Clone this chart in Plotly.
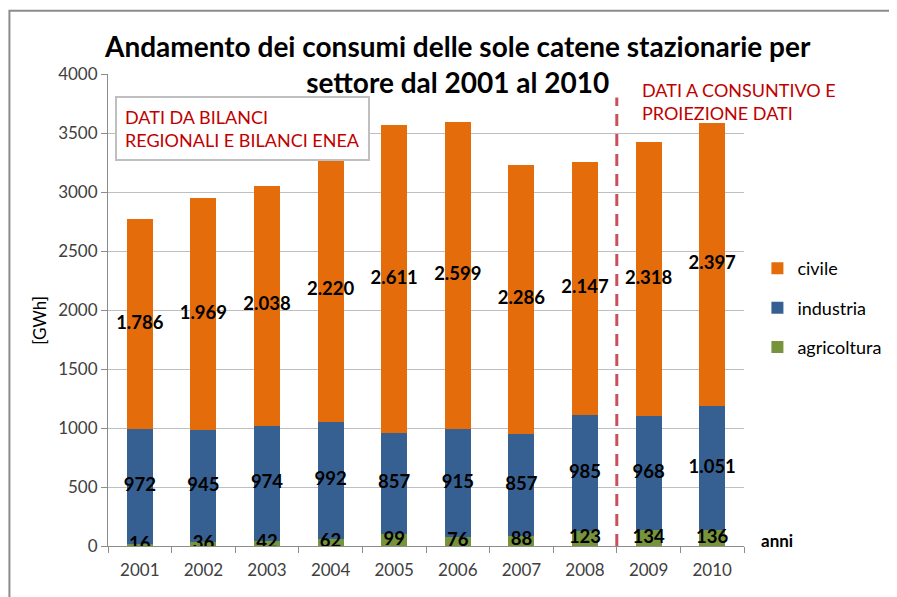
import plotly.graph_objects as go

anni = ["2001", "2002", "2003", "2004", "2005", "2006", "2007", "2008", "2009", "2010"]
agricoltura = [16, 36, 42, 62, 99, 76, 88, 123, 134, 136]
industria = [972, 945, 974, 992, 857, 915, 857, 985, 968, 1051]
civile = [1786, 1969, 2038, 2220, 2611, 2599, 2286, 2147, 2318, 2397]

FONT = "Lato"
settori = [("agricoltura", agricoltura, "#77933C", 3),
           ("industria", industria, "#376092", 2),
           ("civile", civile, "#E46C0A", 1)]

fig = go.Figure()
base = [0] * len(anni)
for nome, valori, colore, rank in settori:
    fig.add_trace(go.Bar(x=anni, y=valori, name=nome, legendrank=rank, legendgroup=nome,
                         marker=dict(color=colore, line=dict(width=0))))
    # etichette al centro di ogni segmento
    centri = [b + v / 2 for b, v in zip(base, valori)]
    fig.add_trace(go.Scatter(x=anni, y=centri, mode="text", customdata=valori,
                             texttemplate="%{customdata:,}", textposition="middle center",
                             textfont=dict(family=FONT, size=18.5, color="black", weight="bold"),
                             showlegend=False, hoverinfo="skip"))
    base = [b + v for b, v in zip(base, valori)]

# separazione dati a consuntivo / proiezione
fig.add_shape(type="line", xref="x", yref="y", x0=7.5, x1=7.5, y0=0, y1=3800,
              line=dict(color="#C8505A", width=3, dash="12px,8px"))
# bordo del grafico
fig.add_shape(type="rect", xref="paper", yref="paper", x0=-0.155, x1=1.4, y0=-0.3, y1=1.134,
              line=dict(color="#8C8C8C", width=2), layer="below")

fig.add_annotation(xref="paper", yref="paper", x=0.549, y=1.1, xanchor="center", yanchor="top",
                   text="<b>Andamento dei consumi delle sole catene stazionarie per<br>settore dal 2001 al 2010</b>",
                   showarrow=False, font=dict(family=FONT, size=28, color="black"))
fig.add_annotation(xref="paper", yref="paper", x=0.011, y=0.953, xanchor="left", yanchor="top",
                   text="DATI DA BILANCI<br>REGIONALI E BILANCI ENEA", showarrow=False, align="left",
                   font=dict(family=FONT, size=18, color="#C00000"), bgcolor="white",
                   bordercolor="#BFBFBF", borderwidth=2, borderpad=8)
fig.add_annotation(xref="paper", yref="paper", x=0.836, y=0.993, xanchor="left", yanchor="top",
                   text="DATI A CONSUNTIVO E<br>PROIEZIONE DATI", showarrow=False, align="left",
                   font=dict(family=FONT, size=18, color="#C00000"))
fig.add_annotation(xref="paper", yref="paper", x=-0.107, y=0.479, xanchor="center", yanchor="middle",
                   text="[GWh]", textangle=-90,
                   showarrow=False, font=dict(family=FONT, size=17, color="black"))
fig.add_annotation(xref="paper", yref="paper", x=1.024, y=0.011, xanchor="left", yanchor="middle",
                   text="anni", showarrow=False,
                   font=dict(family=FONT, size=17, color="black", weight="bold"))

fig.update_layout(
    width=889, height=589,
    margin=dict(l=100, r=152, t=66, b=51),
    paper_bgcolor="white", plot_bgcolor="white",
    barmode="stack", bargap=0.59,
    separators=",.",
    font=dict(family=FONT, size=17, color="#404040"),
    legend=dict(x=1.222, y=0.627, xanchor="right", yanchor="top", traceorder="grouped",
                tracegroupgap=13, itemwidth=30,
                font=dict(family=FONT, size=18, color="black")),
)
fig.update_xaxes(showline=True, linecolor="#8C8C8C", linewidth=1, ticks="outside", tickson="boundaries",
                 ticklen=6, tickcolor="#8C8C8C", showgrid=False, ticklabelstandoff=9)
fig.update_yaxes(range=[0, 4000], dtick=500, showline=True, linecolor="#8C8C8C", linewidth=1,
                 gridcolor="#BFBFBF", ticks="outside", ticklen=6, tickcolor="#8C8C8C", zeroline=False)

fig.write_html("out.html")
